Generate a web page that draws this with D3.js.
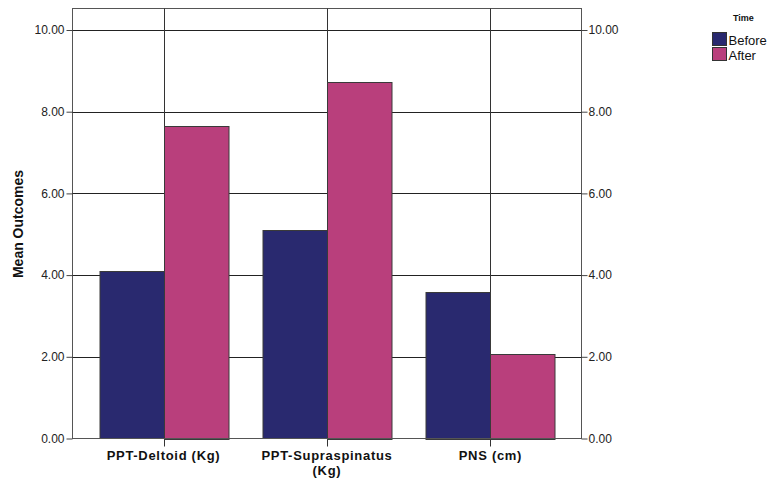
<!DOCTYPE html>
<html><head><meta charset="utf-8">
<script src="https://cdn.jsdelivr.net/npm/d3@7"></script>
<style>body{margin:0;background:#fff}svg{display:block}text{font-family:"Liberation Sans",Arial,sans-serif}</style>
</head><body><svg id="c" width="773" height="480"></svg>
<script>
const categories = [["PPT-Deltoid (Kg)"], ["PPT-Supraspinatus", "(Kg)"], ["PNS (cm)"]];
const seriesNames = ["Before", "After"];
const beforeValues = [4.09, 5.10, 3.59];
const afterValues = [7.66, 8.73, 2.08];
const yTicks = [0, 2, 4, 6, 8, 10];
const colors = ["#29296f", "#b93f7c"];

const svg = d3.select("#c");
const L = 72.5, R = 581.5, T = 8.5, B = 438.5;
const y = d3.scaleLinear().domain([0, 10]).range([B, 30]);
const x = d3.scalePoint().domain(d3.range(categories.length)).range([L, R]).padding(0.557);
const bw = 64.5;

// frame
svg.append("rect").attr("x", L).attr("y", T).attr("width", R - L).attr("height", B - T)
  .attr("fill", "none").attr("stroke", "#555").attr("stroke-width", 1);

// horizontal gridlines
svg.append("g").selectAll("line").data(yTicks.filter(d => d > 0)).join("line")
  .attr("x1", L).attr("x2", R).attr("y1", d => Math.round(y(d)) + 0.5).attr("y2", d => Math.round(y(d)) + 0.5)
  .attr("stroke", "#222").attr("stroke-width", 1);
// vertical gridlines
svg.append("g").selectAll("line").data(d3.range(categories.length)).join("line")
  .attr("x1", d => Math.round(x(d)) + 0.5).attr("x2", d => Math.round(x(d)) + 0.5)
  .attr("y1", T).attr("y2", B + 8).attr("stroke", "#333").attr("stroke-width", 1);

// bars
const data = [];
categories.forEach((c, i) => {
  data.push({i, s: 0, v: beforeValues[i]});
  data.push({i, s: 1, v: afterValues[i]});
});
svg.append("g").selectAll("rect").data(data).join("rect")
  .attr("x", d => Math.round(x(d.i)) + 0.5 + (d.s === 0 ? -bw : 0))
  .attr("width", bw)
  .attr("y", d => Math.round(y(d.v)) + 0.5)
  .attr("height", d => Math.round(B - y(d.v)))
  .attr("fill", d => colors[d.s]).attr("stroke", "#3a3a3a").attr("stroke-width", 1);

// bottom axis line
svg.append("line").attr("x1", L).attr("x2", R).attr("y1", B).attr("y2", B).attr("stroke", "#555");

// left axis
const yl = d3.axisLeft(y).tickValues(yTicks).tickFormat(d3.format(".2f")).tickSize(6).tickPadding(2);
const gl = svg.append("g").attr("transform", `translate(${L},0)`).call(yl);
// right axis
const yr = d3.axisRight(y).tickValues(yTicks).tickFormat(d3.format(".2f")).tickSize(6).tickPadding(1);
const gr = svg.append("g").attr("transform", `translate(${R},0)`).call(yr);
[gl, gr].forEach(g => {
  g.select(".domain").remove();
  g.selectAll(".tick line").attr("stroke", "#444");
  g.selectAll(".tick text").attr("font-size", 12).attr("fill", "#222")
    .attr("font-family", '"Liberation Sans",Arial,sans-serif');
});

// category labels (one text per line)
const labelLines = [];
categories.forEach((lines, i) => lines.forEach((t, j) => labelLines.push({i, j, t})));
svg.append("g").selectAll("text").data(labelLines).join("text")
  .attr("x", d => x(d.i)).attr("y", d => 460 + d.j * 15).attr("text-anchor", "middle")
  .attr("font-size", 13).attr("font-weight", "bold").attr("letter-spacing", 0.7).attr("fill", "#111")
  .text(d => d.t);

// y axis title
svg.append("text").attr("transform", "translate(23,224) rotate(-90)").attr("text-anchor", "middle")
  .attr("font-size", 14).attr("font-weight", "bold").attr("fill", "#111").text("Mean Outcomes");

// legend
svg.append("text").attr("x", 733).attr("y", 21).attr("font-size", 9).attr("font-weight", "bold")
  .attr("fill", "#111").text("Time");
const lg = svg.append("g").selectAll("g").data(seriesNames).join("g")
  .attr("transform", (d, i) => `translate(712.5,${32.5 + i * 15})`);
lg.append("rect").attr("width", 14).attr("height", 13).attr("fill", (d, i) => colors[i]).attr("stroke", "#333");
lg.append("text").attr("x", 16).attr("y", 12).attr("font-size", 13).attr("fill", "#111").text(d => d);
</script></body></html>
